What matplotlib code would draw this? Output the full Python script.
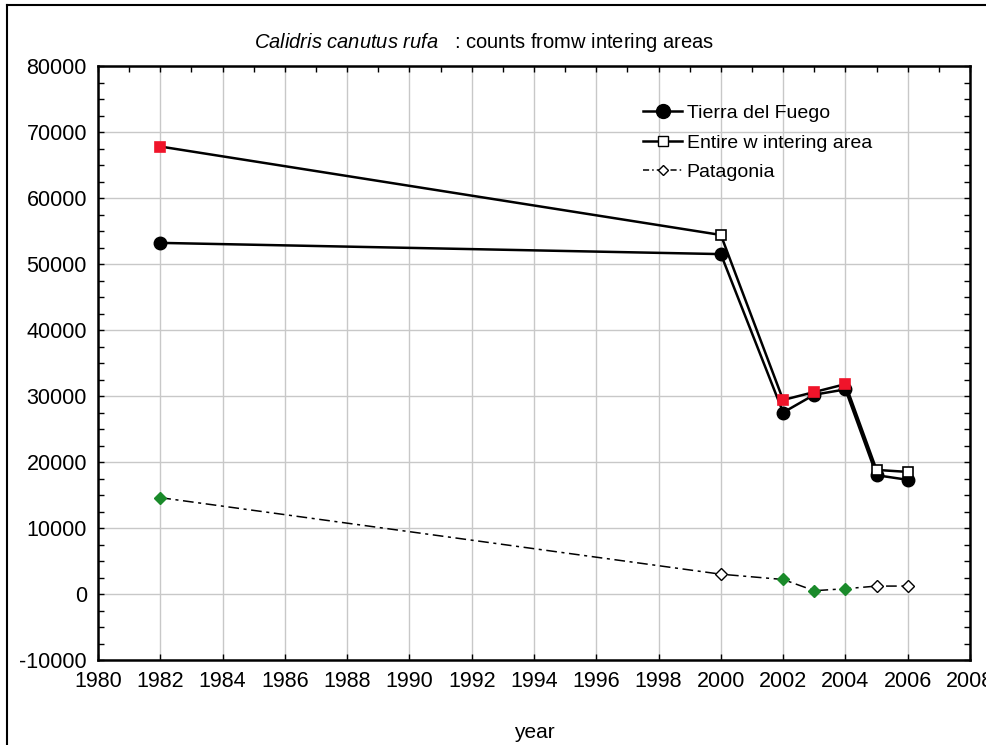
import matplotlib
matplotlib.use("Agg")
import matplotlib.pyplot as plt
from matplotlib.lines import Line2D
from matplotlib.ticker import MultipleLocator

plt.rcParams['font.family'] = ['Liberation Sans', 'DejaVu Sans']
plt.rcParams['mathtext.fontset'] = 'custom'
plt.rcParams['mathtext.it'] = 'Liberation Sans:italic'
plt.rcParams['mathtext.rm'] = 'Liberation Sans'
plt.rcParams['axes.unicode_minus'] = False

years = [1982, 2000, 2002, 2003, 2004, 2005, 2006]
tierra = [53200, 51500, 27500, 30200, 31000, 18000, 17300]
entire = [67800, 54400, 29400, 30600, 31800, 18800, 18500]
patagonia = [14600, 3000, 2200, 500, 800, 1200, 1200]
entire_highlight = [True, False, True, True, True, False, False]
patagonia_highlight = [True, False, True, True, True, False, False]

series_labels = ["Tierra del Fuego", "Entire w intering area", "Patagonia"]
title_it = "Calidris canutus rufa"
title_rest = "   : counts fromw intering areas"
xlabel = "year"

fig = plt.figure(figsize=(9.87, 7.45), dpi=100)
ax = fig.add_axes([98/987, 1 - 660/745, (970-98)/987, (660-66)/745])

# figure frame (left and top visible)
fig.add_artist(Line2D([7/987, 7/987], [0, 1 - 5/745], transform=fig.transFigure, color='black', lw=1.5))
fig.add_artist(Line2D([7/987, 1], [1 - 5/745, 1 - 5/745], transform=fig.transFigure, color='black', lw=1.5))

# Tierra del Fuego
ax.plot(years, tierra, color='black', lw=1.8, marker='o', markersize=9,
        markerfacecolor='black', markeredgecolor='black', zorder=3)
# Entire wintering area
ax.plot(years, entire, color='black', lw=1.8, zorder=3)
for x, y, h in zip(years, entire, entire_highlight):
    ax.plot([x], [y], marker='s', markersize=7.5, linestyle='none',
            markerfacecolor='#f0142a' if h else 'white',
            markeredgecolor='#f0142a' if h else 'black', markeredgewidth=1.2, zorder=4)
# Patagonia
ax.plot(years, patagonia, color='black', lw=1.1, linestyle=(0, (7, 3, 2, 3)), zorder=3)
for x, y, h in zip(years, patagonia, patagonia_highlight):
    ax.plot([x], [y], marker='D', markersize=6.5, linestyle='none',
            markerfacecolor='#1a8a2a' if h else 'white',
            markeredgecolor='#1a8a2a' if h else 'black', markeredgewidth=1.0, zorder=4)

ax.set_xlim(1980, 2008)
ax.set_ylim(-10000, 80000)
ax.xaxis.set_major_locator(MultipleLocator(2))
ax.xaxis.set_minor_locator(MultipleLocator(1))
ax.yaxis.set_major_locator(MultipleLocator(10000))
ax.yaxis.set_minor_locator(MultipleLocator(2500))
ax.grid(True, which='major', color='#c8c8c8', lw=1.0)
ax.set_axisbelow(True)
ax.tick_params(which='both', direction='in', top=True, right=True, labelsize=15.5, pad=8)
ax.tick_params(which='major', length=4, width=1)
ax.tick_params(which='minor', length=4, width=1)
ax.tick_params(axis='x', which='minor', bottom=False)
for s in ax.spines.values():
    s.set_linewidth(1.8)

ax.set_xlabel(xlabel, fontsize=15, labelpad=22)
fig.text(484/987, 1 - 42/745, r"$\it{" + title_it.replace(" ", r"\ ") + "}$" + title_rest,
         ha='center', va='center', fontsize=14.5)

handles = [
    Line2D([], [], color='black', lw=1.8, marker='o', markersize=10, markerfacecolor='black'),
    Line2D([], [], color='black', lw=1.8, marker='s', markersize=7.5, markerfacecolor='white'),
    Line2D([], [], color='black', lw=1.1, linestyle=(0, (4, 2, 1, 2)), marker='D', markersize=5.5,
           markerfacecolor='white'),
]
ax.legend(handles, series_labels, loc='upper left', bbox_to_anchor=(0.605, 0.965),
          frameon=False, fontsize=14, handlelength=2.0, labelspacing=0.62, handletextpad=0.25)

fig.savefig("out.png", dpi=100)
